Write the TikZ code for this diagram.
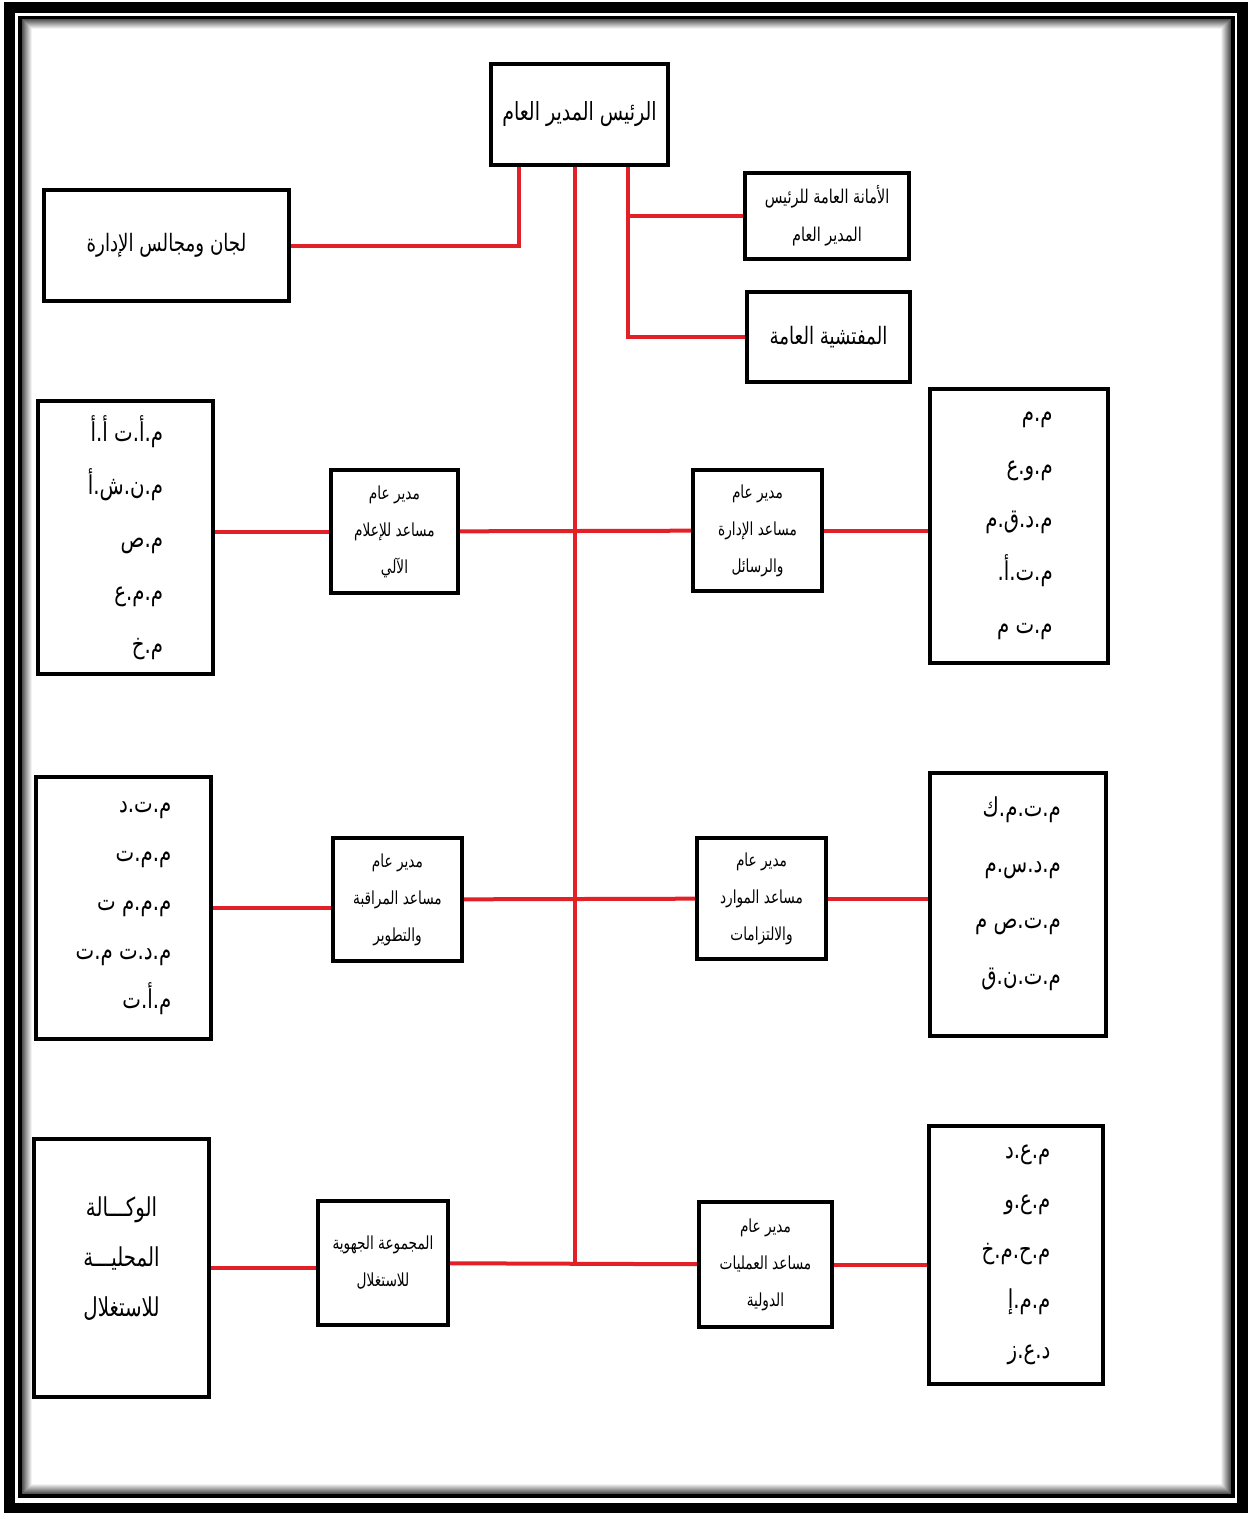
\documentclass[tikz,border=0pt]{standalone}
\usepackage{fontspec}
\usepackage{tikz}
\usetikzlibrary{positioning,backgrounds}
\newfontfamily\arabicfont[Script=Arabic,FakeStretch=0.76]{DejaVu Sans}
\TeXXeTstate=1
\newcommand{\rl}[1]{\beginR #1\endR}
\definecolor{linkred}{RGB}{226,32,40}

\tikzset{
  box/.style={draw,line width=3.5pt,fill=white,inner sep=2pt,align=center},
  listbox/.style={box,align=right,font=\arabicfont\fontsize{26}{53}\selectfont},
  midbox/.style={box,font=\arabicfont\fontsize{18}{37}\selectfont},
  link/.style={draw=linkred,line width=4pt},
}

\begin{document}
\begin{tikzpicture}[x=1pt,y=-1pt]
   \useasboundingbox (0,0) rectangle (1248,1513);
   % page frame
   \draw[line width=11pt] (9,7.5) rectangle (1242,1508);
   \draw[line width=4pt] (20,17.5) rectangle (1232.5,1495.5);
   \foreach \i [evaluate=\i as \g using 75-7*\i] in {1,...,10}
     \draw[black!\g,line width=1pt] (21.5+\i,18.5+\i) rectangle (1231-\i,1494-\i);

   % top
   \node[box,minimum width=177pt,minimum height=101pt,font=\arabicfont\fontsize{25}{30}\selectfont] (pdg) at (579.5,114.5) {\rl{الرئيس المدير العام}};
   \node[box,minimum width=245pt,minimum height=111pt,font=\arabicfont\fontsize{24}{30}\selectfont] (board) at (166.5,245.5) {\rl{لجان ومجالس الإدارة}};
   \node[midbox,font=\arabicfont\fontsize{19}{38}\selectfont,minimum width=164pt,minimum height=86pt] (sg) at (827,216) {\rl{الأمانة العامة للرئيس}\\\rl{المدير العام}};
   \node[box,minimum width=163pt,minimum height=90pt,font=\arabicfont\fontsize{24}{30}\selectfont] (insp) at (828.5,337) {\rl{المفتشية العامة}};

   % row 1
   \node[listbox,minimum width=175pt,minimum height=273pt] (list_1) at (125.5,537.5)
     {\rl{م.أ.ت أ.أ}\\\rl{م.ن.ش.أ}\\\rl{م.ص}\\\rl{م.م.ع}\\\rl{م.خ}};
   \node[midbox,minimum width=127pt,minimum height=123pt] (dga_info) at (394.5,531.5)
     {\rl{مدير عام}\\\rl{مساعد للإعلام}\\\rl{الآلي}};
   \node[midbox,minimum width=129pt,minimum height=121pt] (dga_adm) at (757.5,530.5)
     {\rl{مدير عام}\\\rl{مساعد الإدارة}\\\rl{والرسائل}};
   \node[listbox,minimum width=178pt,minimum height=274pt] (list_2) at (1019,526)
     {\rl{م.م}\\\rl{م.و.ع}\\\rl{م.د.ق.م}\\\rl{م.ت.أ.}\\\rl{م.ت م}};

   % row 2
   \node[listbox,font=\arabicfont\fontsize{26}{49}\selectfont,minimum width=175pt,minimum height=262pt] (list_3) at (123.5,908)
     {\rl{م.ت.د}\\\rl{م.م.ت}\\\rl{م.م.م ت}\\\rl{م.د.ت م.ت}\\\rl{م.أ.ت}};
   \node[midbox,minimum width=129pt,minimum height=123pt] (dga_ctl) at (397.5,899.5)
     {\rl{مدير عام}\\\rl{مساعد المراقبة}\\\rl{والتطوير}};
   \node[midbox,minimum width=129pt,minimum height=121pt] (dga_res) at (761.5,898.5)
     {\rl{مدير عام}\\\rl{مساعد الموارد}\\\rl{والالتزامات}};
   \node[listbox,font=\arabicfont\fontsize{26}{56}\selectfont,minimum width=176pt,minimum height=263pt] (list_4) at (1018,904.5)
     {\rl{م.ت.م.ك}\\\rl{م.د.س.م}\\\rl{م.ت.ص م}\\\rl{م.ت.ن.ق}\\[-28pt]};

   % row 3
   \node[listbox,align=center,font=\arabicfont\fontsize{26}{50}\selectfont,minimum width=175pt,minimum height=258pt] (agency) at (121.5,1268)
     {\rl{الوكـــالة}\\\rl{المحليـــة}\\\rl{للاستغلال}\\[-28pt]};
   \node[midbox,minimum width=130pt,minimum height=124pt] (grp) at (383,1263)
     {\rl{المجموعة الجهوية}\\\rl{للاستغلال}};
   \node[midbox,minimum width=133pt,minimum height=125pt] (dga_ops) at (765.5,1264.5)
     {\rl{مدير عام}\\\rl{مساعد العمليات}\\\rl{الدولية}};
   \node[listbox,font=\arabicfont\fontsize{26}{50}\selectfont,minimum width=174pt,minimum height=258pt] (list_5) at (1016,1255)
     {\rl{م.ع.د}\\\rl{م.ع.و}\\\rl{م.ح.م.خ}\\\rl{م.م.إ}\\\rl{د.ع.ز}};

   % red links
   \begin{scope}[on background layer]
   \draw[link] ([xshift=-4.5pt]pdg.south) -- ([xshift=-4.5pt]pdg.south |- grp.east);
   \draw[link] ([xshift=-60.5pt]pdg.south) |- (board.east);
   \draw[link] ([xshift=48.5pt]pdg.south) |- (sg.west);
   \draw[link] ([xshift=48.5pt]pdg.south) |- (insp.west);
   \path[link]
    (dga_info.west) edge (dga_info.west -| list_1.east)
    (dga_info) edge (dga_adm)
    (dga_adm.east) edge (dga_adm.east -| list_2.west)
    (list_3.east) edge (list_3.east -| dga_ctl.west)
    (dga_ctl) edge (dga_res)
    (dga_res.east) edge (dga_res.east -| list_4.west)
    (agency.east) edge (agency.east -| grp.west)
    (grp) edge (dga_ops)
    (dga_ops.east) edge (dga_ops.east -| list_5.west);
   \end{scope}
\end{tikzpicture}
\end{document}
